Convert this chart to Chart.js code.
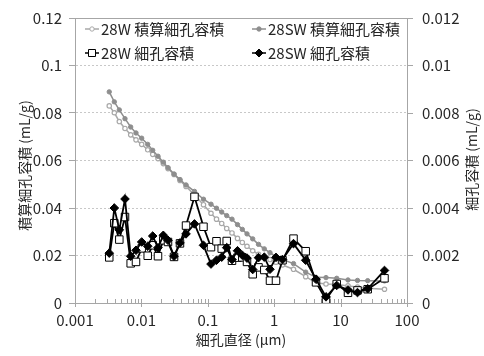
<!DOCTYPE html>
<html><head><meta charset="utf-8">
<script src="https://cdn.jsdelivr.net/npm/chart.js@4"></script>
<style>html,body{margin:0;padding:0;background:#fff}</style>
</head><body>
<canvas id="c" width="484" height="356"></canvas>
<script>
// ---- data ----
const diameters = [0.00328,0.00391,0.00465,0.00566,0.0069,0.00829,0.0101,0.01245,0.0148,0.01778,0.02137,0.02515,0.031,0.0381,0.047,0.063,0.0861,0.1117,0.1352,0.162,0.1926,0.2314,0.2802,0.3309,0.3895,0.4746,0.5802,0.7094,0.8642,1.064,1.334,1.953,2.981,4.261,6.027,8.737,12.92,17.97,25.59,45.83];
const w28Cum = [0.083,0.0801,0.0764,0.0735,0.0708,0.0687,0.0668,0.0645,0.0626,0.0608,0.0587,0.0566,0.0541,0.0516,0.0491,0.0455,0.0414,0.0378,0.0353,0.0335,0.0314,0.0295,0.0272,0.0255,0.0239,0.022,0.0205,0.0193,0.0183,0.0172,0.016,0.0142,0.0111,0.0085,0.008,0.0079,0.0072,0.0067,0.0062,0.0058];
const sw28Cum = [0.0889,0.0847,0.0813,0.0776,0.0741,0.0716,0.0694,0.0668,0.0643,0.0618,0.0593,0.057,0.0543,0.052,0.0497,0.047,0.0437,0.0416,0.0399,0.0383,0.0368,0.0353,0.033,0.031,0.0291,0.027,0.0247,0.0228,0.0212,0.0195,0.0183,0.0166,0.013,0.0108,0.0107,0.0104,0.0097,0.0095,0.0094,0.0093];
const w28Pore = [0.00192,0.00336,0.00267,0.00362,0.00167,0.00173,0.0023,0.00199,0.00243,0.00197,0.00264,0.00257,0.00194,0.00251,0.00326,0.00447,0.00321,0.00235,0.0026,0.00229,0.00261,0.00178,0.00191,0.00192,0.00173,0.00121,0.0015,0.00139,0.00094,0.00094,0.0018,0.00271,0.00218,0.00087,0.00014,0.0008,0.00043,0.00053,0.00058,0.00104];
const sw28Pore = [0.0021,0.004,0.00308,0.00438,0.00197,0.00222,0.00257,0.00239,0.00282,0.00233,0.00285,0.00264,0.00197,0.00253,0.00291,0.00333,0.00243,0.00164,0.0018,0.00193,0.00233,0.00183,0.0022,0.00201,0.00189,0.00141,0.00191,0.00193,0.00142,0.00192,0.00183,0.0025,0.0018,0.001,0.00026,0.00074,0.00055,0.00044,0.0006,0.00137];

const seriesLabels = ['28W 積算細孔容積','28SW 積算細孔容積','28W 細孔容積','28SW 細孔容積'];
const xTickValues = [0.001,0.01,0.1,1,10,100];
const xTickLabels = ['0.001','0.01','0.1','1','10','100'];
const minorSteps = [2,3,4,5,6,7,8,9];
const leftTickValues = [0,0.02,0.04,0.06,0.08,0.1,0.12];
const leftTickLabels = ['0','0.02','0.04','0.06','0.08','0.1','0.12'];
const rightTickValues = [0,0.002,0.004,0.006,0.008,0.01,0.012];
const rightTickLabels = ['0','0.002','0.004','0.006','0.008','0.01','0.012'];
const leftTitle = '積算細孔容積 (mL/g)';
const rightTitle = '細孔容積 (mL/g)';
const xTitle = '細孔直径 (µm)';

// ---- styles ----
const FONT = "'Noto Sans CJK JP', 'Noto Sans', sans-serif";
const TEXT = '#262626';
const AXIS = '#a6a6a6';
const GRID = '#c8c8c8';
const GRAY_W = '#a8a8a8';
const GRAY_SW = '#8e8e8e';

const pts = (xs, ys) => xs.map((x, i) => ({x: x, y: ys[i]}));

function drawMarker(ctx, kind, x, y, color) {
  ctx.save();
  ctx.lineWidth = 1;
  ctx.strokeStyle = color;
  ctx.beginPath();
  if (kind === 'circleOpen' || kind === 'circleFill') {
    ctx.arc(x, y, 2.2, 0, Math.PI * 2);
    ctx.fillStyle = kind === 'circleOpen' ? '#fff' : color;
  } else if (kind === 'square') {
    ctx.rect(x - 3.5, y - 3.5, 7, 7);
    ctx.fillStyle = '#fff';
  } else {
    ctx.moveTo(x, y - 4); ctx.lineTo(x + 4, y); ctx.lineTo(x, y + 4); ctx.lineTo(x - 4, y); ctx.closePath();
    ctx.fillStyle = color;
  }
  ctx.fill(); ctx.stroke();
  ctx.restore();
}

const legendItems = [
  {label: seriesLabels[0], col: 0, row: 0, kind: 'circleOpen', color: GRAY_W},
  {label: seriesLabels[1], col: 1, row: 0, kind: 'circleFill', color: GRAY_SW},
  {label: seriesLabels[2], col: 0, row: 1, kind: 'square', color: '#000'},
  {label: seriesLabels[3], col: 1, row: 1, kind: 'diamond', color: '#000'}
];

const decor = {
  id: 'decor',
  beforeDatasetsDraw(chart) {
    const {ctx, chartArea: a, scales} = chart;
    const xs = scales.x;
    ctx.save();
    ctx.strokeStyle = AXIS; ctx.lineWidth = 1;
    ctx.beginPath();
    xTickValues.forEach((v, i) => {
      const px = Math.round(xs.getPixelForValue(v)) + 0.5;
      ctx.moveTo(px, a.bottom - 4); ctx.lineTo(px, a.bottom + 4);
      if (i < xTickValues.length - 1) {
        minorSteps.forEach(m => {
          const mx = Math.round(xs.getPixelForValue(v * m)) + 0.5;
          ctx.moveTo(mx, a.bottom - 4); ctx.lineTo(mx, a.bottom);
        });
      }
    });
    ctx.stroke();
    ctx.restore();
  },
  afterDraw(chart) {
    const {ctx, chartArea: a} = chart;
    ctx.save();
    ctx.fillStyle = TEXT;
    ctx.font = '14px ' + FONT;
    ctx.textAlign = 'center'; ctx.textBaseline = 'middle';
    ctx.save(); ctx.translate(25, (a.top + a.bottom) / 2 + 5); ctx.rotate(-Math.PI / 2); ctx.fillText(leftTitle, 0, 0); ctx.restore();
    ctx.save(); ctx.translate(chart.width - 12, (a.top + a.bottom) / 2 - 1); ctx.rotate(-Math.PI / 2); ctx.fillText(rightTitle, 0, 0); ctx.restore();
    // legend inside plot area
    const colX = [a.left + 10, a.left + 177];
    const rowY = [a.top + 11, a.top + 35];
    legendItems.forEach(it => {
      const x0 = colX[it.col], y = rowY[it.row];
      ctx.save();
      ctx.strokeStyle = it.color; ctx.lineWidth = 1.5;
      ctx.beginPath(); ctx.moveTo(x0, y); ctx.lineTo(x0 + 14, y); ctx.stroke();
      ctx.restore();
      drawMarker(ctx, it.kind, x0 + 7, y, it.color);
      ctx.fillStyle = TEXT;
      ctx.font = '15px ' + FONT;
      ctx.textAlign = 'left'; ctx.textBaseline = 'middle';
      ctx.fillText(it.label, x0 + 16, y);
    });
    ctx.restore();
  }
};

new Chart(document.getElementById('c'), {
  type: 'line',
  data: {
    datasets: [
      {label: seriesLabels[3], data: pts(diameters, sw28Pore), yAxisID: 'yR', order: 0,
       borderColor: '#000', backgroundColor: '#000', borderWidth: 1.8,
       pointStyle: 'rectRot', pointRadius: 4.3, pointBorderWidth: 1,
       pointBorderColor: '#000', pointBackgroundColor: '#000'},
      {label: seriesLabels[2], data: pts(diameters, w28Pore), yAxisID: 'yR', order: 1,
       borderColor: '#000', backgroundColor: '#fff', borderWidth: 1.8,
       pointStyle: 'rect', pointRadius: 5.3, pointBorderWidth: 1,
       pointBorderColor: '#000', pointBackgroundColor: '#fff'},
      {label: seriesLabels[1], data: pts(diameters, sw28Cum), yAxisID: 'yL', order: 2,
       borderColor: GRAY_SW, backgroundColor: GRAY_SW, borderWidth: 1.5,
       pointStyle: 'circle', pointRadius: 2.2, pointBorderWidth: 1,
       pointBorderColor: GRAY_SW, pointBackgroundColor: GRAY_SW},
      {label: seriesLabels[0], data: pts(diameters, w28Cum), yAxisID: 'yL', order: 3,
       borderColor: GRAY_W, backgroundColor: '#fff', borderWidth: 1.5,
       pointStyle: 'circle', pointRadius: 2.2, pointBorderWidth: 1.2,
       pointBorderColor: GRAY_W, pointBackgroundColor: '#fff'}
    ]
  },
  options: {
    responsive: false, animation: false, devicePixelRatio: 1,
    layout: {padding: {top: 15, left: 0, right: 0, bottom: 0}},
    plugins: {legend: {display: false}, tooltip: {enabled: false}},
    elements: {line: {tension: 0, fill: false}},
    scales: {
      x: {
        type: 'logarithmic', position: 'bottom', min: 0.001, max: 100,
        afterBuildTicks: s => { s.ticks = xTickValues.map(v => ({value: v, major: true})); },
        afterFit: s => { s.height = 53; },
        ticks: {callback: (v, i) => xTickLabels[i], color: TEXT, font: {family: FONT, size: 15}, padding: 8, maxRotation: 0, autoSkip: false},
        grid: {display: true, drawOnChartArea: false, drawTicks: false},
        border: {display: true, color: AXIS, width: 1},
        title: {display: true, text: xTitle, color: TEXT, font: {family: FONT, size: 14}, padding: {top: 0, bottom: 8}}
      },
      yL: {
        type: 'linear', position: 'left', min: 0, max: 0.12,
        afterBuildTicks: s => { s.ticks = leftTickValues.map(v => ({value: v})); },
        afterFit: s => { s.width = 75; },
        ticks: {callback: (v, i) => leftTickLabels[i], color: TEXT, font: {family: FONT, size: 15}, padding: 7},
        grid: {
          color: c => (c.index === leftTickValues.length - 1) ? AXIS : GRID,
          lineWidth: 1, drawTicks: true, tickLength: 6, tickColor: AXIS, tickBorderDash: []
        },
        border: {display: true, color: AXIS, width: 1,
          dash: c => (c.index === leftTickValues.length - 1) ? [] : [2, 2]}
      },
      yR: {
        type: 'linear', position: 'right', min: 0, max: 0.012,
        afterBuildTicks: s => { s.ticks = rightTickValues.map(v => ({value: v})); },
        afterFit: s => { s.width = 77; },
        ticks: {callback: (v, i) => rightTickLabels[i], color: TEXT, font: {family: FONT, size: 15}, padding: 9},
        grid: {drawOnChartArea: false, drawTicks: true, tickLength: 6, tickColor: AXIS, color: AXIS},
        border: {display: true, color: AXIS, width: 1}
      }
    }
  },
  plugins: [decor]
});
</script>
</body></html>
